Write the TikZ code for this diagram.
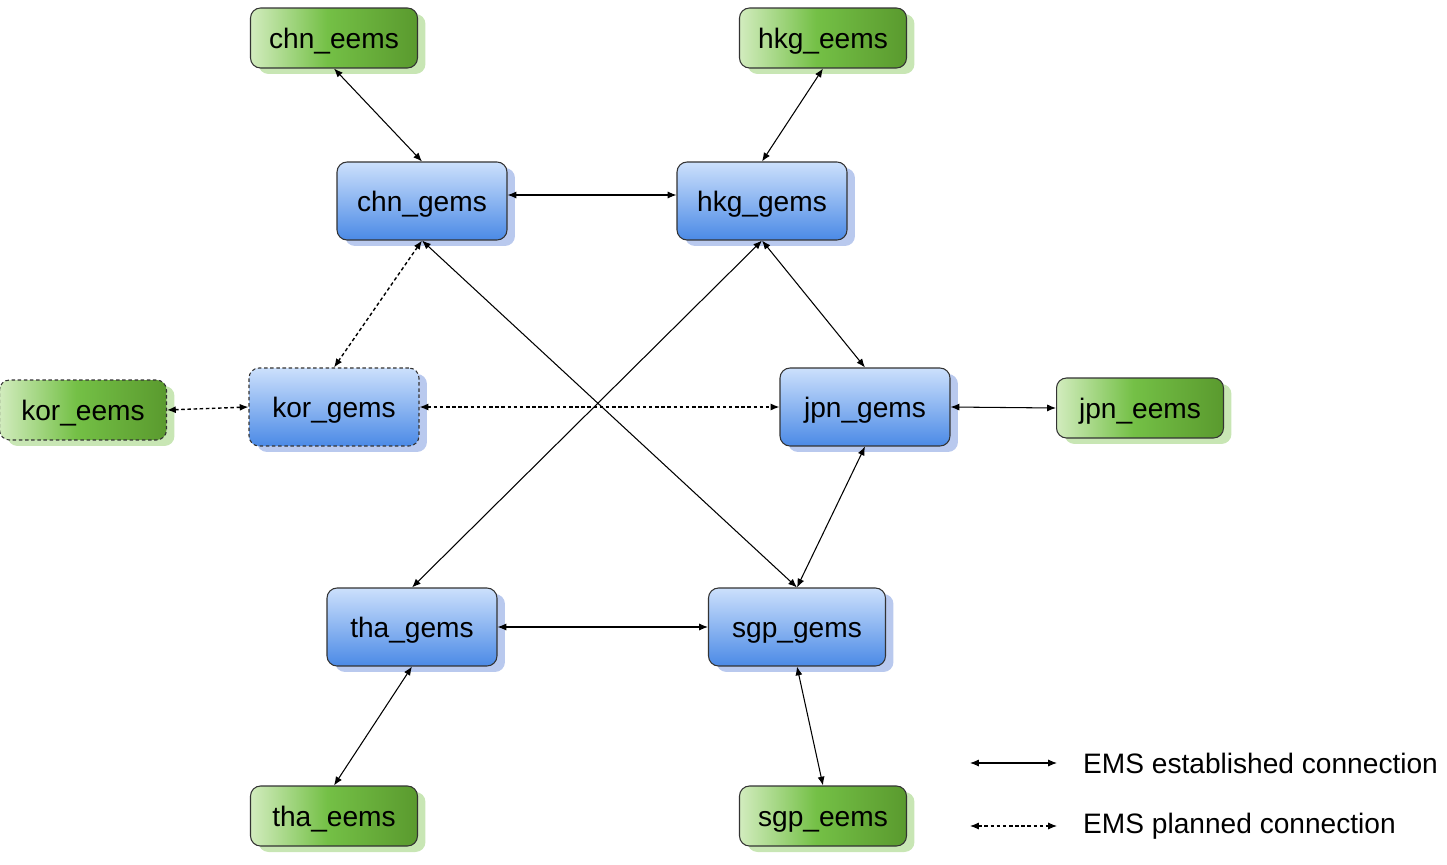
\documentclass[tikz,border=0pt]{standalone}
\usepackage{fontspec}
\setmainfont{Liberation Sans}
\usepackage{xcolor}
\usepackage{tikz}
\usetikzlibrary{positioning, arrows.meta, shadows}

\definecolor{eemslight}{HTML}{D2ECBE}
\definecolor{eemsmid}{HTML}{74C046}
\definecolor{eemsdark}{HTML}{5A9A2E}
\definecolor{eemsshadow}{HTML}{C8E6B4}
\definecolor{gemstop}{HTML}{CCE0FC}
\definecolor{gemsbot}{HTML}{4B8AE6}
\definecolor{gemsshadow}{HTML}{B9C9EE}

\pgfdeclarehorizontalshading{eemsshade}{100bp}{color(0bp)=(eemslight); color(25bp)=(eemslight);
  color(48bp)=(eemsmid); color(75bp)=(eemsdark); color(100bp)=(eemsdark)}

\tikzset{
  box/.style={draw=black!80, rounded corners=0.2cm, font=\fontsize{16}{18}\selectfont,
    line width=0.6pt, text=black, text height=0.53cm, text depth=0.12cm},
  eems/.style={box, shading=eemsshade,
    minimum width=3.34cm, minimum height=1.2cm,
    drop shadow={shadow xshift=0.16cm, shadow yshift=-0.12cm, fill=eemsshadow, opacity=1}},
  gems/.style={box, top color=gemstop, bottom color=gemsbot,
    minimum width=3.4cm, minimum height=1.56cm,
    drop shadow={shadow xshift=0.16cm, shadow yshift=-0.12cm, fill=gemsshadow, opacity=1}},
  planned/.style={dash pattern=on 2pt off 1.5pt},
  link/.style={<->, line width=0.6pt}
}

\begin{document}
\begin{tikzpicture}[x=0.02cm, y=-0.02cm, >={Latex[length=5pt,width=4pt]}]
  \useasboundingbox (0,0) rectangle (1447,865);

  % outer nodes
  \node[eems] (chn_eems) at (334,38) {chn\_eems};
  \node[eems] (hkg_eems) at (823,38) {hkg\_eems};
  \node[eems, planned] (kor_eems) at (83,410) {kor\_eems};
  \node[eems] (jpn_eems) at (1140,408) {jpn\_eems};
  \node[eems] (tha_eems) at (334,816) {tha\_eems};
  \node[eems] (sgp_eems) at (823,816) {sgp\_eems};

  % gateway nodes
  \node[gems] (chn_gems) at (422,201) {chn\_gems};
  \node[gems] (hkg_gems) at (762,201) {hkg\_gems};
  \node[gems, planned] (kor_gems) at (334,407) {kor\_gems};
  \node[gems] (jpn_gems) at (865,407) {jpn\_gems};
  \node[gems] (tha_gems) at (412,627) {tha\_gems};
  \node[gems, minimum width=3.54cm] (sgp_gems) at (797,627) {sgp\_gems};

  \path[link]
    (chn_eems.south) edge (chn_gems.north)
    (hkg_eems.south) edge (hkg_gems.north)
    ([yshift=0.12cm]chn_gems.east) edge ([yshift=0.12cm]hkg_gems.west)
    (chn_gems.south) edge (sgp_gems.north)
    (hkg_gems.south) edge (tha_gems.north)
    (hkg_gems.south) edge (jpn_gems.north)
    (jpn_gems.east) edge (jpn_eems.west)
    (jpn_gems.south) edge (sgp_gems.north)
    (tha_gems.east) edge (sgp_gems.west)
    (tha_gems.south) edge (tha_eems.north)
    (sgp_gems.south) edge (sgp_eems.north);

  \path[link, planned, line width=0.8pt]
    (chn_gems.south) edge (kor_gems.north)
    (kor_eems.east) edge (kor_gems.west)
    (kor_gems.east) edge (jpn_gems.west);

  % legend
  \coordinate (est_a) at (970,763);
  \coordinate (est_b) at (1057,763);
  \coordinate (pln_a) at (970,826);
  \coordinate (pln_b) at (1057,826);
  \draw[link] (est_a) -- (est_b);
  \draw[link, planned] (pln_a) -- (pln_b);
  \node[anchor=west, font=\fontsize{16}{18}\selectfont] (est_text) at (1077,763) {EMS established connection};
  \node[anchor=west, font=\fontsize{16}{18}\selectfont] (pln_text) at (1077,826) {EMS planned connection};
\end{tikzpicture}
\end{document}
